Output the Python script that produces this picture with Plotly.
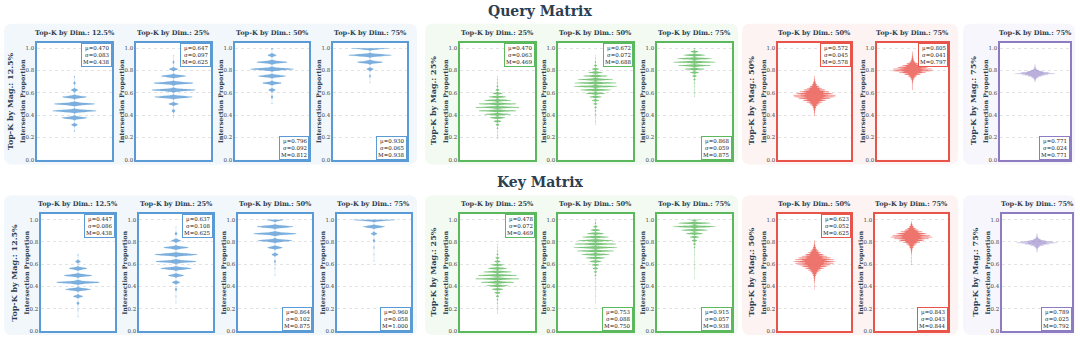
import plotly.graph_objects as go

W, H = 1080, 344
FONT = "DejaVu Serif"
INK = "#2c3e50"

# ---------------- data ----------------
MAG_LABELS = ["12.5%", "25%", "50%", "75%"]
DIM_LABELS = [["12.5%", "25%", "50%", "75%"], ["25%", "50%", "75%"], ["50%", "75%"], ["75%"]]
DENOMS = [16, 32, 64, 96]  # proportion = k / denom for each Mag group
YTICKS = [0.0, 0.2, 0.4, 0.6, 0.8, 1.0]

# query matrix: counts of k, starting at Q_K0
Q_K0 = [4, 6, 8, 11, 6, 10, 18, 25, 40, 67]
Q_M12_D12 = [2, 14, 58, 100, 92, 55, 16, 5, 2]
Q_M12_D25 = [1, 8, 22, 88, 100, 92, 58, 20, 4, 1]
Q_M12_D50 = [1, 5, 16, 43, 64, 100, 70, 20, 3]
Q_M12_D75 = [1, 4, 15, 60, 100, 85]
Q_M25_D25 = [1, 1, 1, 3, 8, 18, 35, 60, 85, 100, 85, 62, 40, 22, 9, 4, 2, 1, 1]
Q_M25_D50 = [1, 1, 1, 2, 3, 5, 9, 16, 28, 45, 70, 100, 95, 80, 55, 32, 16, 7, 3, 1, 1]
Q_M25_D75 = [1, 1, 1, 1, 2, 5, 10, 20, 45, 75, 100, 80, 50, 18, 3]
Q_M50_D50 = [1, 1, 2, 3, 5, 8, 14, 25, 38, 55, 75, 98, 100, 88, 70, 52, 35, 22, 13, 8, 4, 2, 1, 1]
Q_M50_D75 = [1, 1, 1, 1, 2, 3, 6, 12, 22, 40, 65, 100, 95, 75, 50, 30, 15, 8, 5, 3, 2, 1, 1]
Q_M75_D75 = [1, 2, 4, 8, 18, 35, 65, 100, 70, 40, 20, 9, 4, 2, 1, 1]
Q_MEAN = [0.470, 0.647, 0.796, 0.930, 0.470, 0.672, 0.868, 0.572, 0.805, 0.771]
Q_STD = [0.083, 0.097, 0.092, 0.065, 0.063, 0.072, 0.059, 0.045, 0.041, 0.024]
Q_MED = [0.438, 0.625, 0.812, 0.938, 0.469, 0.688, 0.875, 0.578, 0.797, 0.771]

# key matrix
K_K0 = [2, 4, 8, 10, 5, 8, 15, 24, 38, 68]
K_M12_D12 = [1, 1, 6, 22, 60, 100, 66, 42, 12, 2]
K_M12_D25 = [1, 1, 5, 18, 36, 72, 94, 100, 58, 22, 6, 1]
K_M12_D50 = [1, 1, 4, 15, 35, 80, 100, 85, 40]
K_M12_D75 = [1, 1, 2, 5, 14, 50, 100]
K_M25_D25 = [1, 1, 1, 2, 3, 7, 14, 26, 50, 75, 100, 88, 65, 45, 28, 14, 9, 4, 2, 1, 1]
K_M25_D50 = [1, 0, 1, 0, 1, 0, 1, 1, 4, 7, 12, 18, 28, 45, 65, 85, 100, 95, 80, 60, 40, 22, 10, 3, 1]
K_M25_D75 = [1, 0, 0, 1, 0, 1, 0, 1, 1, 3, 6, 12, 22, 40, 62, 100, 75, 25]
K_M50_D50 = [1, 0, 1, 0, 1, 2, 3, 4, 7, 12, 20, 30, 44, 60, 78, 92, 100, 92, 78, 60, 44, 30, 20, 12, 7, 4, 2, 1, 1]
K_M50_D75 = [1, 0, 1, 0, 1, 0, 1, 2, 3, 5, 9, 15, 25, 40, 60, 82, 100, 90, 72, 52, 34, 20, 10, 5, 2, 1]
K_M75_D75 = [1, 1, 2, 4, 8, 16, 32, 60, 100, 75, 42, 20, 9, 4, 2, 1, 1]
K_MEAN = [0.447, 0.637, 0.864, 0.960, 0.478, 0.753, 0.915, 0.623, 0.843, 0.789]
K_STD = [0.086, 0.108, 0.102, 0.058, 0.072, 0.088, 0.057, 0.052, 0.043, 0.025]
K_MED = [0.438, 0.625, 0.875, 1.000, 0.469, 0.750, 0.938, 0.625, 0.844, 0.792]

ROWS = [
    ("Query Matrix", Q_K0,
     [Q_M12_D12, Q_M12_D25, Q_M12_D50, Q_M12_D75, Q_M25_D25, Q_M25_D50, Q_M25_D75,
      Q_M50_D50, Q_M50_D75, Q_M75_D75], Q_MEAN, Q_STD, Q_MED),
    ("Key Matrix", K_K0,
     [K_M12_D12, K_M12_D25, K_M12_D50, K_M12_D75, K_M25_D25, K_M25_D50, K_M25_D75,
      K_M50_D50, K_M50_D75, K_M75_D75], K_MEAN, K_STD, K_MED),
]

# ---------------- style / layout (pixels) ----------------
GROUP_COLORS = ["#5b9bd5", "#5cb85c", "#e8534a", "#8e7cc3"]
GROUP_BG = ["#f2f7fc", "#f2faf2", "#fdf3f2", "#f8f6fd"]
BANDWIDTH = [0.008, 0.0052, 0.0045, 0.003]
FILL_ALPHA = [0.8, 0.8, 0.8, 0.6]

ROW_TITLE_Y = [11, 184]
ROW_PTITLE_Y = [33, 206]
ROW_BG_Y = [(24, 166), (197, 338)]
GROUP_BG_X = [(4, 417), (425, 738), (742, 958), (963, 1075)]
ROW_AXES_Y = [(43, 161), (216, 334)]
ROW_AXES_X = [
    [(37, 112), (136, 211), (235, 309), (333, 407), (460, 535), (558, 633), (657, 732),
     (778, 851), (877, 948), (1000, 1070)],
    [(41, 115), (139, 213), (238, 312), (337, 411), (460, 535), (558, 633), (657, 732),
     (778, 851), (875, 948), (1002, 1072)],
]
STATS_BOTTOM = [
    [False, False, True, True, False, False, True, False, False, True],
    [False, False, True, True, False, True, True, False, True, True],
]


def px(x):
    return x / W


def py(y):
    return 1 - y / H


def rgba(hex_color, a):
    h = hex_color.lstrip("#")
    return f"rgba({int(h[0:2], 16)},{int(h[2:4], 16)},{int(h[4:6], 16)},{a})"


def rounded_path(x0, y0, x1, y1, r=8):
    return (
        f"M {px(x0 + r)},{py(y0)} L {px(x1 - r)},{py(y0)} "
        f"Q {px(x1)},{py(y0)} {px(x1)},{py(y0 + r)} L {px(x1)},{py(y1 - r)} "
        f"Q {px(x1)},{py(y1)} {px(x1 - r)},{py(y1)} L {px(x0 + r)},{py(y1)} "
        f"Q {px(x0)},{py(y1)} {px(x0)},{py(y1 - r)} L {px(x0)},{py(y0 + r)} "
        f"Q {px(x0)},{py(y0)} {px(x0 + r)},{py(y0)} Z"
    )


def label(x, y, text, size, angle=0):
    return dict(x=px(x), y=py(y), xref="paper", yref="paper", xanchor="center",
                yanchor="middle", showarrow=False, text=text, textangle=angle,
                font=dict(family=FONT, size=size, color=INK, weight="bold"))


fig = go.Figure()
shapes, annotations, axes = [], [], {}
n = 0

for r, (row_title, k0s, counts, means, stds, meds) in enumerate(ROWS):
    for g in range(4):
        shapes.append(dict(type="path", xref="paper", yref="paper",
                           path=rounded_path(GROUP_BG_X[g][0], ROW_BG_Y[r][0],
                                             GROUP_BG_X[g][1], ROW_BG_Y[r][1]),
                           fillcolor=GROUP_BG[g], line=dict(width=0), layer="below"))
    annotations.append(label(540, ROW_TITLE_Y[r], row_title, 14))
    j = 0
    for g in range(4):
        col = GROUP_COLORS[g]
        for d_i, dim in enumerate(DIM_LABELS[g]):
            n += 1
            xr = "x" if n == 1 else f"x{n}"
            yr = "y" if n == 1 else f"y{n}"
            x0, x1 = ROW_AXES_X[r][j]
            y0, y1 = ROW_AXES_Y[r]

            shapes.append(dict(type="rect", xref="paper", yref="paper",
                               x0=px(x0), x1=px(x1), y0=py(y1), y1=py(y0),
                               fillcolor="white", line=dict(width=0), layer="below"))

            ys = []
            for i, c in enumerate(counts[j]):
                ys += [(k0s[j] + i) / DENOMS[g]] * c
            fig.add_trace(go.Violin(
                y=ys, x0=0, xaxis=xr, yaxis=yr, width=1.16, scalemode="width",
                spanmode="hard", bandwidth=BANDWIDTH[g], points=False,
                line=dict(color=rgba(col, 0.35), width=0.3),
                fillcolor=rgba(col, FILL_ALPHA[g]), showlegend=False, hoverinfo="skip",
            ))

            axes["xaxis" if n == 1 else f"xaxis{n}"] = dict(
                domain=[px(x0), px(x1)], anchor=yr, range=[-1, 1],
                showticklabels=False, showgrid=False, zeroline=False,
                showline=True, mirror=True, linecolor=col, linewidth=1.5,
                ticks="", fixedrange=True)
            axes["yaxis" if n == 1 else f"yaxis{n}"] = dict(
                domain=[py(y1), py(y0)], anchor=xr, range=[0, 1.05],
                tickvals=YTICKS, ticktext=[f"{v:.1f}" for v in YTICKS],
                tickfont=dict(family=FONT, size=5.5, color="#444"),
                showgrid=True, gridcolor="#e3e3e3", griddash="dot", gridwidth=0.6,
                zeroline=False, showline=True, mirror=True, linecolor=col,
                linewidth=1.5, ticks="", fixedrange=True)

            annotations.append(label((x0 + x1) / 2, ROW_PTITLE_Y[r], f"Top-K by Dim.: {dim}", 6.6))
            annotations.append(label(x0 - 14, (y0 + y1) / 2, "Intersection Proportion", 6.3, -90))
            if d_i == 0:
                annotations.append(label(x0 - 27, (y0 + y1) / 2,
                                         f"Top-K by Mag.: {MAG_LABELS[g]}", 8, -90))

            bottom = STATS_BOTTOM[r][j]
            annotations.append(dict(
                xref=f"{xr} domain", yref=f"{yr} domain", x=1, y=0 if bottom else 1,
                xanchor="right", yanchor="bottom" if bottom else "top", align="right",
                showarrow=False,
                text=f"μ={means[j]:.3f}<br>σ={stds[j]:.3f}<br>M={meds[j]:.3f}",
                font=dict(family=FONT, size=5.5, color="#222"),
                bgcolor="white", bordercolor=col, borderwidth=1, borderpad=1))
            j += 1

fig.update_layout(
    width=W, height=H, margin=dict(l=0, r=0, t=0, b=0),
    paper_bgcolor="white", plot_bgcolor="rgba(0,0,0,0)",
    showlegend=False, shapes=shapes, annotations=annotations, **axes,
)

# the page's default body margin would shift the fixed-size figure
fig.write_html("out.html", config={"displayModeBar": False},
               post_script="document.body.style.margin='0';")
